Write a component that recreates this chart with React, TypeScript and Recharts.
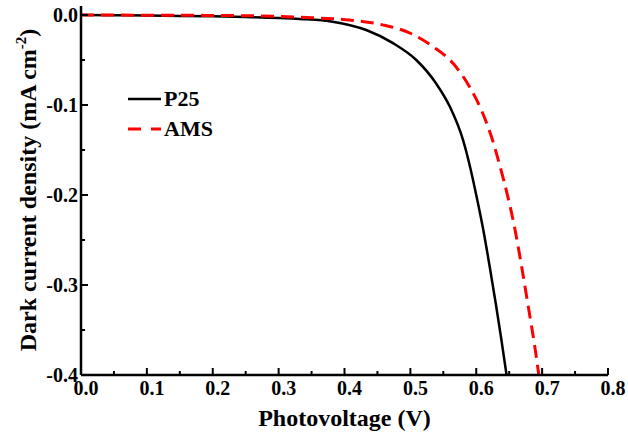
import React from "react";
import { LineChart, Line, XAxis, YAxis, Legend } from "recharts";

const p25Voltage = [0, 0.05, 0.1, 0.15, 0.2, 0.25, 0.3, 0.332, 0.382, 0.433, 0.473, 0.509, 0.539, 0.56, 0.58, 0.591, 0.6, 0.611, 0.6205, 0.6295, 0.638, 0.646];
const p25Current = [0, -0.0003, -0.0006, -0.001, -0.0015, -0.0022, -0.0033, -0.0044, -0.0074, -0.0167, -0.031, -0.05, -0.076, -0.102, -0.139, -0.17, -0.2, -0.24, -0.28, -0.32, -0.36, -0.4];

const amsVoltage = [0, 0.1, 0.2, 0.3, 0.35, 0.408, 0.458, 0.499, 0.534, 0.565, 0.59, 0.608, 0.623, 0.636, 0.648, 0.659, 0.669, 0.679, 0.689, 0.695];
const amsCurrent = [0, -0.0002, -0.0005, -0.0015, -0.003, -0.0056, -0.011, -0.02, -0.035, -0.054, -0.08, -0.106, -0.135, -0.168, -0.202, -0.239, -0.28, -0.324, -0.369, -0.4];

const xTicks = [0, 0.05, 0.1, 0.15, 0.2, 0.25, 0.3, 0.35, 0.4, 0.45, 0.5, 0.55, 0.6, 0.65, 0.7, 0.75, 0.8];
const yTicks = [-0.4, -0.35, -0.3, -0.25, -0.2, -0.15, -0.1, -0.05, 0];
const legendOrder = ["P25", "AMS"];

const p25Data = p25Voltage.map((v, i) => ({ v, j: p25Current[i] }));
const amsData = amsVoltage.map((v, i) => ({ v, j: amsCurrent[i] }));

const FONT = '"Liberation Serif", "Times New Roman", serif';

const isMajor = (val: number) => Math.abs(val * 10 - Math.round(val * 10)) < 1e-6;

const XTick = (props: any) => {
  const { x, y, payload } = props;
  const val = payload.value as number;
  const major = isMajor(val);
  return (
    <g>
      <line x1={x} y1={y} x2={x} y2={y - (major ? 7 : 4)} stroke="#000" strokeWidth={2} />
      {major && (
        <text x={x + 5} y={y + 20} textAnchor="middle" fontFamily={FONT} fontWeight="bold" fontSize={20} fill="#000">
          {val.toFixed(1)}
        </text>
      )}
    </g>
  );
};

const YTick = (props: any) => {
  const { x, y, payload } = props;
  const val = payload.value as number;
  const major = isMajor(val);
  const label = Math.abs(val) < 1e-9 ? "0.0" : val.toFixed(1);
  return (
    <g>
      <line x1={x} y1={y} x2={x + (major ? 7 : 4)} y2={y} stroke="#000" strokeWidth={2} />
      {major && (
        <text x={x - 3} y={y + 7} textAnchor="end" fontFamily={FONT} fontWeight="bold" fontSize={20} fill="#000">
          {label}
        </text>
      )}
    </g>
  );
};

const LegendContent = (props: any) => {
  const raw = props.payload || [];
  const payload = legendOrder
    .map((name) => raw.find((e: any) => e.value === name))
    .filter(Boolean);
  return (
    <svg width={120} height={70} style={{ display: "block" }}>
      {payload.map((entry: any, i: number) => {
        const cy = 19 + i * 30;
        const dash = entry.payload?.strokeDasharray;
        return (
          <g key={i}>
            <line
              x1={8}
              y1={cy}
              x2={41}
              y2={cy}
              stroke={entry.color}
              strokeWidth={dash ? 3 : 2.5}
              strokeDasharray={dash ? "13 10" : undefined}
            />
            <text x={44} y={cy + 7} fontFamily={FONT} fontWeight="bold" fontSize={22} fill="#000">
              {entry.value}
            </text>
          </g>
        );
      })}
    </svg>
  );
};

export default function App() {
  return (
    <div style={{ position: "absolute", left: 0, top: 0, width: 628, height: 436, background: "#fff" }}>
      <LineChart width={628} height={436} margin={{ top: 6, right: 20, bottom: 0, left: 0 }}>
        <XAxis
          xAxisId="main"
          type="number"
          dataKey="v"
          domain={[0, 0.8]}
          ticks={xTicks}
          allowDataOverflow
          height={61}
          tickSize={0}
          tickMargin={0}
          tickLine={false}
          tick={<XTick />}
          axisLine={{ stroke: "#000", strokeWidth: 2.5 }}
          interval={0}
        />
        <XAxis
          xAxisId="top"
          orientation="top"
          type="number"
          domain={[0, 0.8]}
          height={0}
          tick={false}
          tickLine={false}
          axisLine={{ stroke: "#000", strokeWidth: 2.5 }}
        />
        <YAxis
          yAxisId="main"
          type="number"
          dataKey="j"
          domain={[-0.4, 0.01]}
          ticks={yTicks}
          allowDataOverflow
          width={81}
          tickSize={0}
          tickMargin={0}
          tickLine={false}
          tick={<YTick />}
          axisLine={{ stroke: "#000", strokeWidth: 2.5 }}
          interval={0}
          label={(lp: any) => {
            const cy = 190;
            const cx = 36;
            return (
              <text
                x={cx}
                y={cy}
                transform={`rotate(-90 ${cx} ${cy})`}
                textAnchor="middle"
                fontFamily={FONT}
                fontWeight="bold"
                fontSize={24}
                fill="#000"
              >
                Dark current density (mA cm
                <tspan dy={-10} fontSize={15}>-2</tspan>
                <tspan dy={10}>)</tspan>
              </text>
            );
          }}
        />
        <YAxis
          yAxisId="right"
          orientation="right"
          type="number"
          domain={[-0.4, 0.01]}
          width={0}
          tick={false}
          tickLine={false}
          axisLine={{ stroke: "#000", strokeWidth: 2.5 }}
        />
        <Legend
          layout="vertical"
          align="center"
          verticalAlign="middle"
          wrapperStyle={{ position: "absolute", left: 120, top: 80, width: 120, height: 70 }}
          content={<LegendContent />}
        />
        <Line
          xAxisId="main"
          yAxisId="main"
          data={p25Data}
          dataKey="j"
          name="P25"
          type="monotone"
          stroke="#000000"
          strokeWidth={2.5}
          dot={false}
          isAnimationActive={false}
        />
        <Line
          xAxisId="main"
          yAxisId="main"
          data={amsData}
          dataKey="j"
          name="AMS"
          type="monotone"
          stroke="#ff0000"
          strokeWidth={3}
          strokeDasharray="13 7"
          dot={false}
          isAnimationActive={false}
        />
      </LineChart>
      <div
        style={{
          position: "absolute",
          left: 81,
          width: 527,
          top: 405,
          textAlign: "center",
          fontFamily: FONT,
          fontWeight: "bold",
          fontSize: 24,
          lineHeight: "26px",
          color: "#000",
        }}
      >
        Photovoltage (V)
      </div>
    </div>
  );
}
